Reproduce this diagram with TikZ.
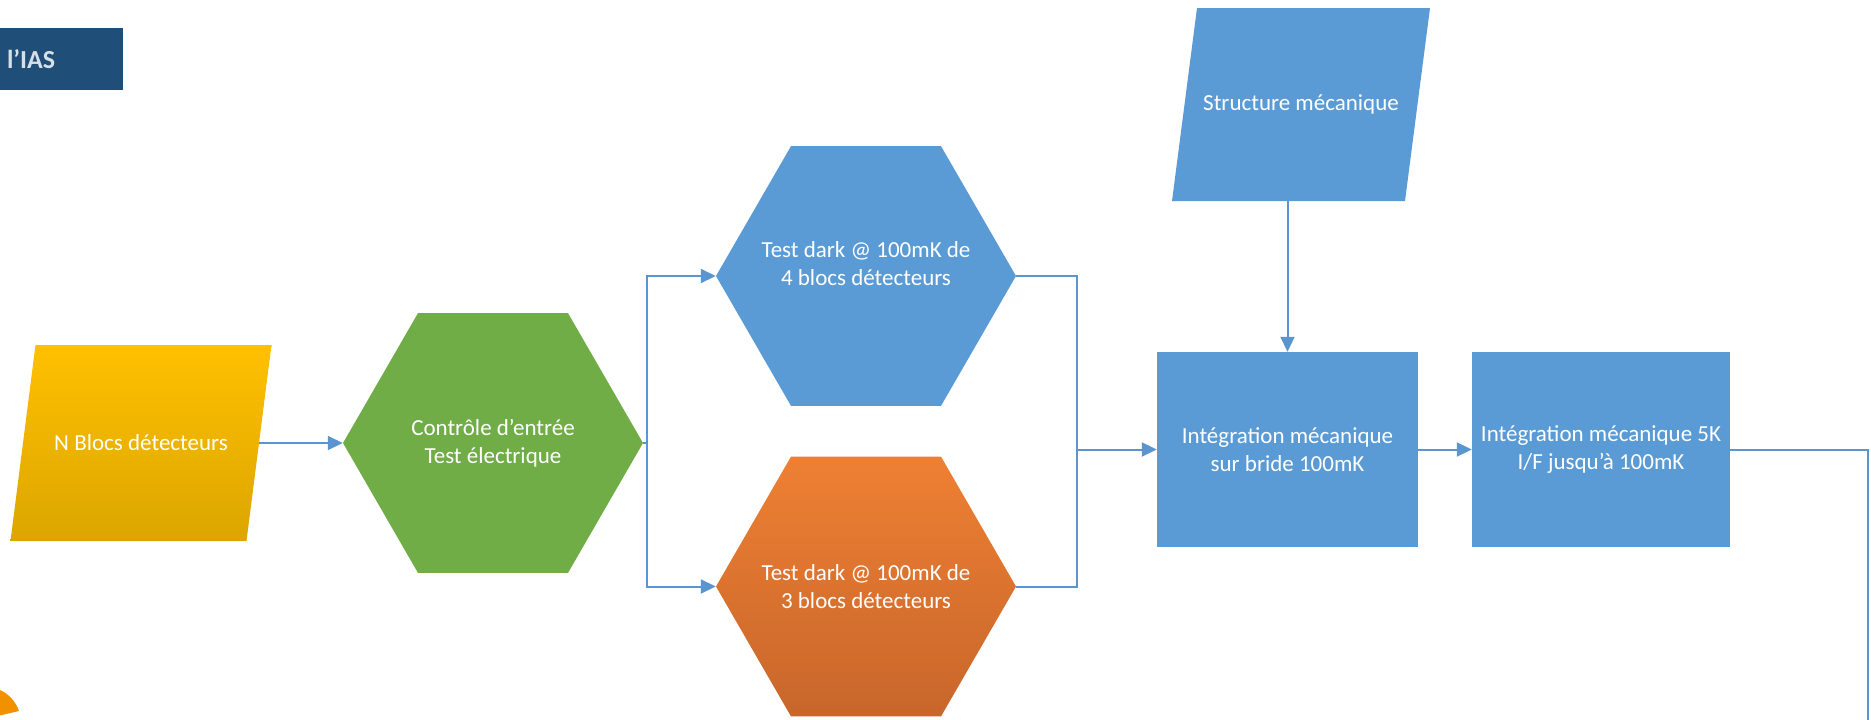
\documentclass[tikz,border=0pt]{standalone}
\usepackage{fontspec}
\setmainfont{Carlito}
\usetikzlibrary{arrows.meta,shapes.geometric}
\definecolor{iasblue}{HTML}{1F4E79}
\definecolor{flowblue}{HTML}{5B9BD5}
\definecolor{flowgreen}{HTML}{70AD47}
\definecolor{yellowtop}{HTML}{FFC000}
\definecolor{yellowbot}{HTML}{DCA600}
\definecolor{orangetop}{HTML}{EE8033}
\definecolor{orangebot}{HTML}{C8662B}
\definecolor{lineblue}{HTML}{5B95D0}
\definecolor{logoorange}{HTML}{F29100}
\tikzset{
	boxtext/.style={text=white, font=\fontsize{23}{28}\selectfont, align=center, inner sep=0pt},
	hexa/.style={regular polygon, regular polygon sides=6, minimum size=300pt, inner sep=0pt},
	parall/.style={boxtext, rectangle, path picture={\path[#1] ([xshift=25pt]path picture bounding box.north west) -- (path picture bounding box.north east) -- ([xshift=-25pt]path picture bounding box.south east) -- (path picture bounding box.south west) -- cycle;}},
	rectbox/.style={boxtext, rectangle, fill=flowblue, minimum height=195pt},
	hdrbox/.style={fill=iasblue, minimum width=123pt, minimum height=62pt, text width=109pt, inner xsep=7pt, align=left, text=white!82!iasblue, font=\bfseries\fontsize{26}{30}\selectfont},
	flowline/.style={draw=lineblue, line width=2pt},
	flowarrow/.style={flowline, -{Triangle[length=15pt,width=14pt]}}
}

\begin{document}
\begin{tikzpicture}[x=1pt, y=-1pt]
		%%%%% START %%%%%
		\useasboundingbox (0,0) rectangle (1871,720);
		
		\node[hdrbox] (ias) at (61.5,59) {l’IAS};
		\fill[logoorange] (0,690) .. controls (9,694) and (16,702) .. (19,711) -- (2,715) -- (0,715) -- cycle;
		
		\node[parall={top color=yellowtop, bottom color=yellowbot}, minimum width=261pt, minimum height=196pt] (blocs) at (141,443) {N Blocs détecteurs};
		\node[hexa, fill=flowgreen, label={[boxtext]center:Contrôle d’entrée\\Test électrique}] (ctrl) at (493,443) {};
		\node[hexa, fill=flowblue, label={[boxtext, yshift=12pt]center:Test dark @ 100mK de\\4 blocs détecteurs}] (dark4) at (866,276) {};
		\node[hexa, top color=orangetop, bottom color=orangebot, label={[boxtext]center:Test dark @ 100mK de\\3 blocs détecteurs}] (dark3) at (866,586.5) {};
		\node[parall={fill=flowblue}, minimum width=258pt, minimum height=193pt] (meca) at (1301,104.5) {Structure mécanique};
		\node[rectbox, minimum width=261pt] (bride) at (1287.5,449.5) {Intégration mécanique\\sur bride 100mK};
		\node[rectbox, minimum width=258pt] (cinqk) at (1601,449.5) {Intégration mécanique 5K\\I/F jusqu’à 100mK};
		
		\coordinate (split) at (647,443);
		\coordinate (merge) at (1077,449.5);
		\coordinate (exit) at (1868,720);
		
		\draw[flowarrow] ([xshift=-12.5pt]blocs.east) -- (ctrl.west);
		\draw[flowline] (ctrl.east) -- (split);
		\draw[flowarrow] (split) |- (dark4.west);
		\draw[flowarrow] (split) |- (dark3.west);
		\draw[flowline] (dark4.east) -| (merge);
		\draw[flowline] (dark3.east) -| (merge);
		\draw[flowarrow] (merge) -- (bride.west);
		\draw[flowarrow] (bride.north |- meca.south) -- (bride.north);
		\draw[flowarrow] (bride.east) -- (cinqk.west);
		\draw[flowline] (cinqk.east) -| (exit);
		
		%%%%% END %%%%%
\end{tikzpicture}
\end{document}
